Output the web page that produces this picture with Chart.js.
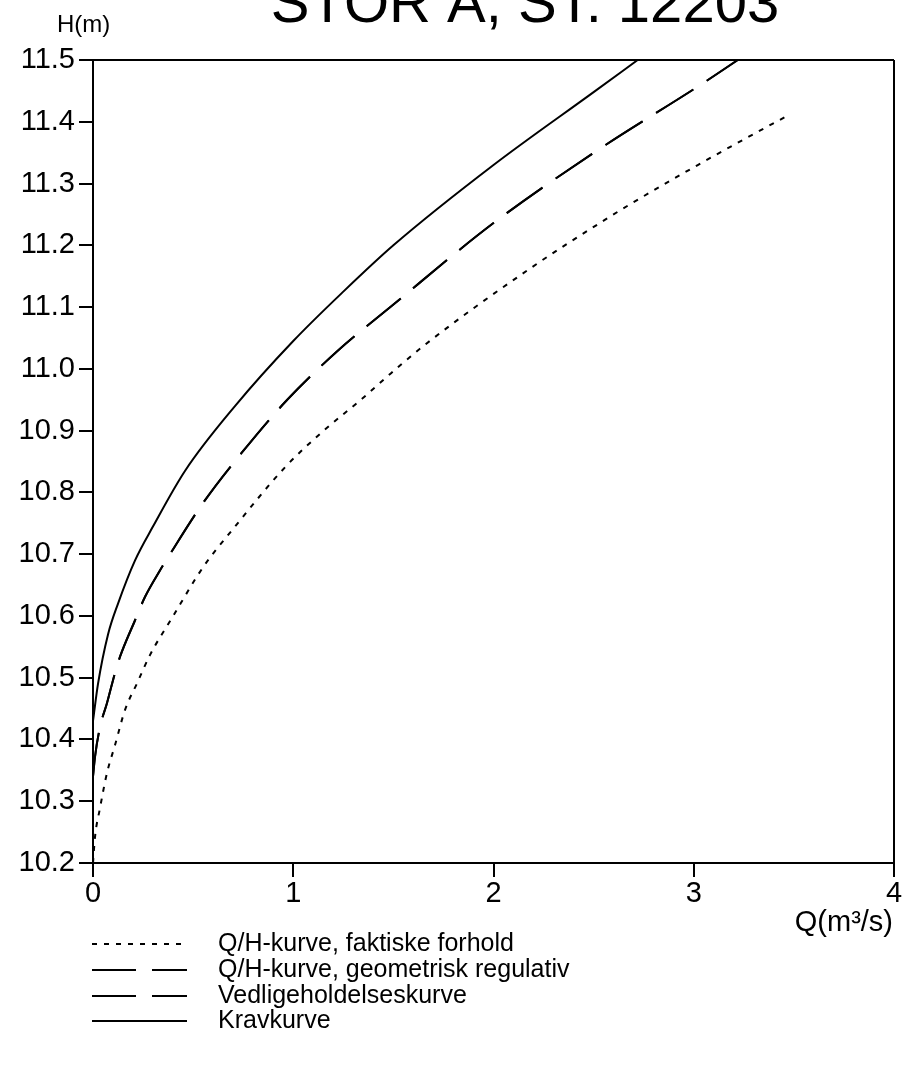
<!DOCTYPE html>
<html>
<head>
<meta charset="utf-8">
<script src="https://cdn.jsdelivr.net/npm/chart.js@4.4.1/dist/chart.umd.min.js"></script>
<style>
  html, body { margin: 0; padding: 0; background: #fff; }
  #wrap { width: 906px; height: 1073px; }
</style>
</head>
<body>
<div id="wrap"><canvas id="qh" width="906" height="1073"></canvas></div>
<script>
// Q/H-kurve, faktiske forhold
const qFaktisk = [0, 0.01, 0.035, 0.07, 0.11, 0.16, 0.22, 0.285, 0.395, 0.55, 0.695, 0.96, 1.145, 1.345, 1.46, 1.65, 2.185, 2.55, 2.685, 3.02, 3.27, 3.475];
const hFaktisk = [10.2, 10.242, 10.289, 10.346, 10.391, 10.448, 10.491, 10.537, 10.597, 10.679, 10.739, 10.841, 10.898, 10.952, 10.985, 11.037, 11.163, 11.24, 11.267, 11.33, 11.375, 11.411];

// Q/H-kurve, geometrisk regulativ (Vedligeholdelseskurve falls on the same line)
const qGeo = [0, 0.01, 0.035, 0.07, 0.11, 0.135, 0.21, 0.26, 0.335, 0.375, 0.55, 0.745, 0.97, 1.225, 1.485, 2.0, 2.52, 3.035, 3.22];
const hGeo = [10.34, 10.372, 10.42, 10.459, 10.508, 10.534, 10.593, 10.631, 10.674, 10.695, 10.783, 10.865, 10.95, 11.03, 11.1, 11.236, 11.354, 11.46, 11.5];
const qVedl = qGeo.slice();
const hVedl = hGeo.slice();

// Kravkurve
const qKrav = [0, 0.025, 0.075, 0.125, 0.21, 0.3, 0.46, 0.71, 1.0, 1.25, 1.5, 2.0, 2.5, 2.72];
const hKrav = [10.43, 10.49, 10.57, 10.62, 10.69, 10.745, 10.835, 10.94, 11.045, 11.125, 11.2, 11.33, 11.448, 11.5];

const seriesNames = ["Q/H-kurve, faktiske forhold", "Q/H-kurve, geometrisk regulativ", "Vedligeholdelseskurve", "Kravkurve"];
const xTicks = [0, 1, 2, 3, 4];
const yTicks = [10.2, 10.3, 10.4, 10.5, 10.6, 10.7, 10.8, 10.9, 11.0, 11.1, 11.2, 11.3, 11.4, 11.5];

const FONT = "'Liberation Sans', Arial, sans-serif";

function pts(qs, hs) {
    return qs.map((q, i) => ({ x: q, y: hs[i] }));
}

function line(label, data, dash) {
    return {
        label: label,
        data: data,
        showLine: true,
        borderColor: "#000",
        borderWidth: 2,
        borderDash: dash,
        pointRadius: 0,
        cubicInterpolationMode: "monotone",
        fill: false
    };
}

// frame, title, axis captions and the legend drawn straight on the canvas
const decor = {
    id: "decor",
    afterDraw(chart) {
        const c = chart.ctx;
        const a = chart.chartArea;
        c.save();
        c.strokeStyle = "#000";
        c.lineWidth = 2;
        c.beginPath();
        c.moveTo(a.left, a.top);
        c.lineTo(a.right, a.top);
        c.moveTo(a.right, a.top);
        c.lineTo(a.right, a.bottom);
        c.stroke();

        c.fillStyle = "#000";
        c.textBaseline = "alphabetic";

        c.font = "58px " + FONT;
        c.textAlign = "center";
        c.fillText("STOR Å, ST. 12203", 525, 22);

        c.font = "24px " + FONT;
        c.textAlign = "left";
        c.fillText("H(m)", 57, 32);

        c.font = "29px " + FONT;
        c.textAlign = "right";
        c.fillText("Q(m³/s)", 893, 931);

        // legend rows
        const rowY = [944, 970, 996, 1021];
        c.textAlign = "left";
        c.textBaseline = "middle";
        c.font = "25px " + FONT;
        chart.data.datasets.forEach((ds, i) => {
            const y = rowY[i];
            c.save();
            c.lineWidth = 2;
            c.setLineDash(ds.borderDash || []);
            c.beginPath();
            c.moveTo(92, y);
            c.lineTo(187, y);
            c.stroke();
            c.restore();
            c.fillText(ds.label, 218, y);
        });
        c.restore();
    }
};

new Chart(document.getElementById("qh"), {
    type: "scatter",
    data: {
        datasets: [
            line(seriesNames[0], pts(qFaktisk, hFaktisk), [5, 7]),
            line(seriesNames[1], pts(qGeo, hGeo), [44, 16]),
            line(seriesNames[2], pts(qVedl, hVedl), [44, 16]),
            line(seriesNames[3], pts(qKrav, hKrav), [])
        ]
    },
    options: {
        responsive: false,
        animation: false,
        layout: { padding: { top: 60, right: 12, left: 0, bottom: 0 } },
        plugins: {
            legend: { display: false },
            tooltip: { enabled: false }
        },
        scales: {
            x: {
                type: "linear",
                min: 0,
                max: 4,
                afterBuildTicks: s => { s.ticks = xTicks.map(v => ({ value: v })); },
                afterFit: s => { s.height = 210; },
                grid: { display: true, drawOnChartArea: false, drawTicks: true, tickLength: 14, lineWidth: 2, color: "#000" },
                border: { display: true, color: "#000", width: 2 },
                ticks: {
                    color: "#000",
                    padding: 0,
                    font: { family: FONT, size: 29 },
                    callback: v => String(v)
                }
            },
            y: {
                type: "linear",
                min: 10.2,
                max: 11.5,
                afterBuildTicks: s => { s.ticks = yTicks.map(v => ({ value: v })); },
                afterFit: s => { s.width = 93; },
                grid: { display: true, drawOnChartArea: false, drawTicks: true, tickLength: 14, lineWidth: 2, color: "#000" },
                border: { display: true, color: "#000", width: 2 },
                ticks: {
                    color: "#000",
                    padding: 4,
                    font: { family: FONT, size: 29 },
                    callback: v => Number(v).toFixed(1)
                }
            }
        }
    },
    plugins: [decor]
});
</script>
</body>
</html>
